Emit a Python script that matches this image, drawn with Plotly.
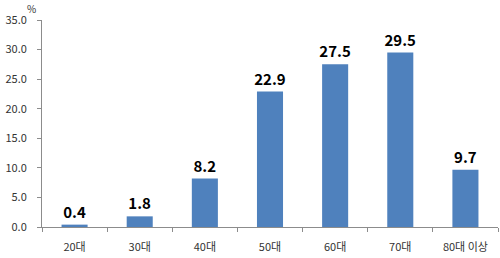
import plotly.graph_objects as go

categories = ["20대", "30대", "40대", "50대", "60대", "70대", "80대 이상"]
values = [0.4, 1.8, 8.2, 22.9, 27.5, 29.5, 9.7]
y_ticks = [0, 5, 10, 15, 20, 25, 30, 35]
y_tick_labels = ["0.0", "5.0", "10.0", "15.0", "20.0", "25.0", "30.0", "35.0"]

FONT = "Noto Sans CJK KR"

fig = go.Figure(go.Bar(
    x=categories, y=values,
    marker=dict(color="#4F81BD", line=dict(width=0)),
    text=[f"{v:.1f}" for v in values],
    textposition="outside",
    constraintext="none",
    textfont=dict(family=FONT, size=15, color="#000000", weight="bold"),
    cliponaxis=False,
))

fig.update_layout(
    width=500, height=258,
    margin=dict(l=42, r=2, t=20, b=31),
    paper_bgcolor="white", plot_bgcolor="white",
    bargap=0.6,
    showlegend=False,
    font=dict(family=FONT, size=11, color="#333333"),
    xaxis=dict(
        showline=True, linecolor="#8c8c8c", linewidth=1,
        ticks="outside", tickson="boundaries", ticklen=4, tickcolor="#8c8c8c",
        showgrid=False, ticklabelstandoff=10,
        tickfont=dict(family=FONT, size=11, color="#333333"),
    ),
    yaxis=dict(
        range=[0, 35], tickvals=y_ticks, ticktext=y_tick_labels,
        showline=True, linecolor="#8c8c8c", linewidth=1,
        ticks="outside", ticklen=4, tickcolor="#8c8c8c",
        showgrid=False, zeroline=False, ticklabelstandoff=8,
        tickfont=dict(family=FONT, size=11, color="#333333"),
    ),
    annotations=[dict(
        text="%", xref="paper", yref="paper", x=-0.024, y=1.055,
        xanchor="center", yanchor="middle", showarrow=False,
        font=dict(family=FONT, size=10, color="#333333"),
    )],
)

fig.write_html("out.html")
